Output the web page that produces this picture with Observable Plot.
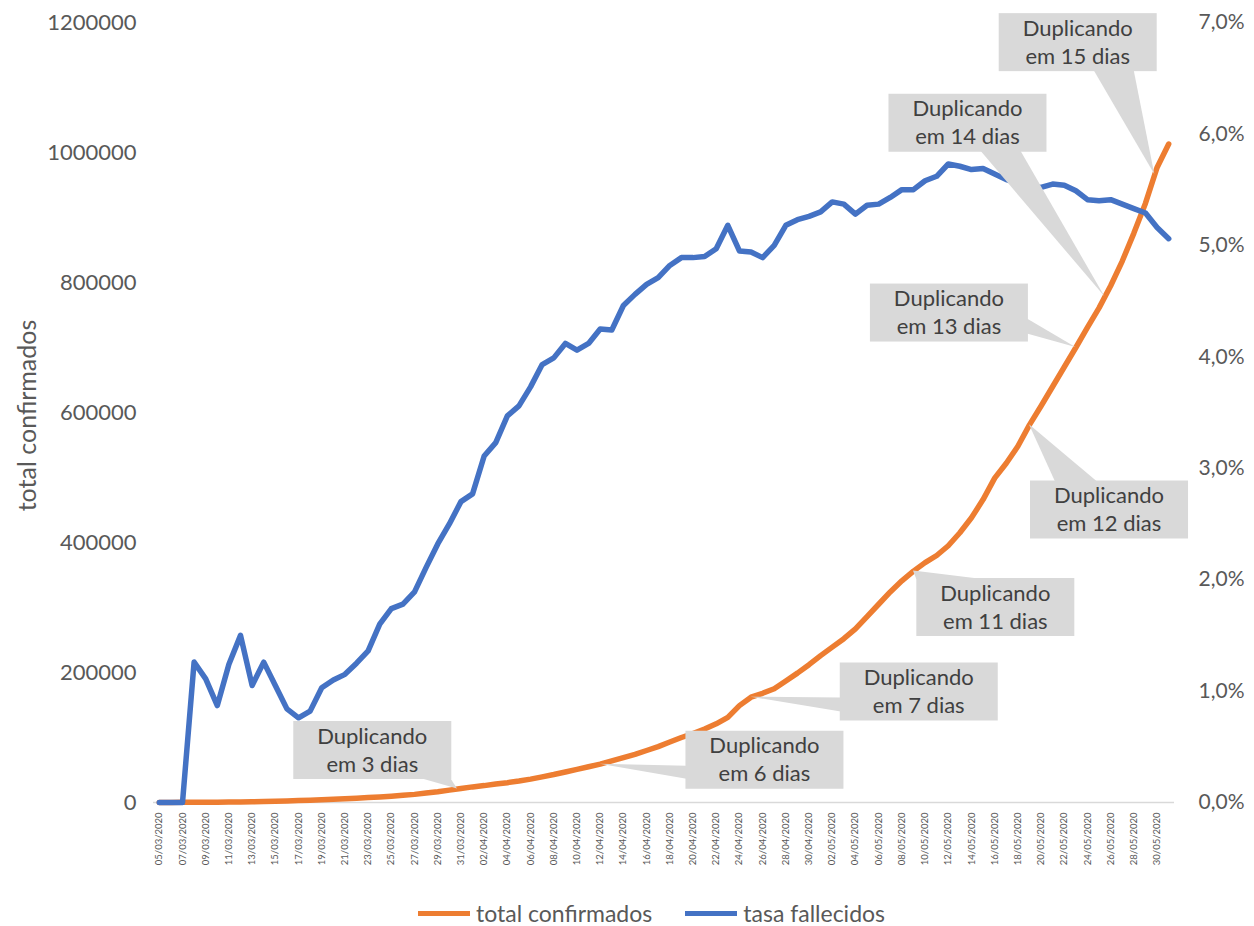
<!DOCTYPE html>
<html><head><meta charset="utf-8">
<script src="https://cdn.jsdelivr.net/npm/d3@7"></script>
<script src="https://cdn.jsdelivr.net/npm/@observablehq/plot@0.6"></script>
<style>
body{margin:0;background:#fff;font-family:Lato, sans-serif;overflow:hidden;}
#chart svg{display:block;}
#legend{display:flex;align-items:center;height:26px;line-height:26px;padding-left:418px;font-size:23px;color:#595959;}
.sw{display:inline-block;width:52px;height:5px;margin-right:6px;}
.item{display:flex;align-items:center;margin-right:33px;}
</style></head><body>
<div id="chart"></div>
<div id="legend"></div>
<script>
const dates = ["05/03/2020","06/03/2020","07/03/2020","08/03/2020","09/03/2020","10/03/2020","11/03/2020","12/03/2020","13/03/2020","14/03/2020","15/03/2020","16/03/2020","17/03/2020","18/03/2020","19/03/2020","20/03/2020","21/03/2020","22/03/2020","23/03/2020","24/03/2020","25/03/2020","26/03/2020","27/03/2020","28/03/2020","29/03/2020","30/03/2020","31/03/2020",
"01/04/2020","02/04/2020","03/04/2020","04/04/2020","05/04/2020","06/04/2020","07/04/2020","08/04/2020","09/04/2020","10/04/2020","11/04/2020","12/04/2020","13/04/2020","14/04/2020","15/04/2020","16/04/2020","17/04/2020","18/04/2020","19/04/2020","20/04/2020","21/04/2020","22/04/2020","23/04/2020","24/04/2020","25/04/2020","26/04/2020","27/04/2020","28/04/2020","29/04/2020","30/04/2020",
"01/05/2020","02/05/2020","03/05/2020","04/05/2020","05/05/2020","06/05/2020","07/05/2020","08/05/2020","09/05/2020","10/05/2020","11/05/2020","12/05/2020","13/05/2020","14/05/2020","15/05/2020","16/05/2020","17/05/2020","18/05/2020","19/05/2020","20/05/2020","21/05/2020","22/05/2020","23/05/2020","24/05/2020","25/05/2020","26/05/2020","27/05/2020","28/05/2020","29/05/2020","30/05/2020","31/05/2020"];

const totalConfirmados = [0,0,200,300,400,500,700,900,1200,1500,1900,2400,3000,3600,4200,5000,5800,6700,7600,8600,9700,11000,12500,14500,16500,19000,21500,
24000,26000,28500,30500,33000,36000,39500,43000,47000,51000,55000,59000,64000,69000,74000,80000,86000,93000,100000,106000,113000,121000,131000,149000,162000,168000,175000,187000,199000,212000,
226000,239000,252000,267000,286000,305000,324000,341000,356000,369000,380000,395000,415000,438000,466000,499000,522000,548000,581000,610000,640000,670000,700000,731000,761000,795000,833000,876000,922000,977000,1013000];

const tasaFallecidos = [0,0,0,1.26,1.11,0.87,1.24,1.50,1.05,1.26,1.05,0.84,0.76,0.82,1.03,1.10,1.15,1.25,1.36,1.60,1.74,1.78,1.89,2.11,2.32,2.50,2.70,
2.77,3.11,3.23,3.47,3.56,3.73,3.93,3.99,4.12,4.06,4.12,4.25,4.24,4.46,4.56,4.65,4.71,4.82,4.89,4.89,4.90,4.97,5.18,4.95,4.94,4.89,5.00,5.18,5.23,5.26,
5.30,5.39,5.37,5.28,5.36,5.37,5.43,5.50,5.50,5.58,5.62,5.73,5.71,5.68,5.69,5.64,5.59,5.56,5.53,5.52,5.55,5.54,5.49,5.41,5.40,5.41,5.37,5.33,5.29,5.16,5.06];

const leftTicks = [0,200000,400000,600000,800000,1000000,1200000];
const rightTickPct = [0,1,2,3,4,5,6,7];
const rightTickLabels = ["0,0%","1,0%","2,0%","3,0%","4,0%","5,0%","6,0%","7,0%"];
const seriesNames = ["total confirmados","tasa fallecidos"];
const yTitle = "total confirmados";

// callouts: label lines, tip (day index on orange line), box centre (day index, value)
const calloutLine1 = ["Duplicando","Duplicando","Duplicando","Duplicando","Duplicando","Duplicando","Duplicando","Duplicando"];
const calloutLine2 = ["em 3 dias","em 6 dias","em 7 dias","em 11 dias","em 12 dias","em 13 dias","em 14 dias","em 15 dias"];
const calloutTipDay = [25.7,38,51,65,75,79,81.5,85.8];
const calloutBoxDay = [18.4,52.2,65.5,72.1,81.9,68.1,69.7,79.2];
const calloutBoxValue = [80000,65000,170000,300000,450000,753000,1045000,1169000];
const calloutSide = ["bottom","left","left","top","top","right","bottom","bottom"];
const calloutBase = [[127,157],[35,48],[35,49],[0,66],[25,67],[35,50],[92,132],[95,135]];

const PCT_MAX = 7, Y_MAX = 1200000;
const orangeData = totalConfirmados.map((v,i)=>({i, v}));
const blueData = tasaFallecidos.map((v,i)=>({i, v}));
const ORANGE = "#ED7D31", BLUE = "#4472C4", TXT = "#595959";

function interp(arr, t){
  const a = Math.floor(t), b = Math.min(arr.length-1, a+1), f = t - a;
  return arr[a]*(1-f) + arr[b]*f;
}

function callouts(index, scales){
  const W = 158, H = 58;
  const g = d3.create("svg:g");
  for (let k = 0; k < calloutLine1.length; k++){
    const cx = scales.x(calloutBoxDay[k]), cy = scales.y(calloutBoxValue[k]);
    const L = cx - W/2, T = cy - H/2;
    const tx = scales.x(calloutTipDay[k]), ty = scales.y(interp(totalConfirmados, calloutTipDay[k]));
    const [o1,o2] = calloutBase[k];
    let p1, p2;
    switch (calloutSide[k]){
      case "bottom": p1=[L+o1,T+H-1]; p2=[L+o2,T+H-1]; break;
      case "top": p1=[L+o1,T+1]; p2=[L+o2,T+1]; break;
      case "left": p1=[L+1,T+o1]; p2=[L+1,T+o2]; break;
      case "right": p1=[L+W-1,T+o1]; p2=[L+W-1,T+o2]; break;
    }
    g.append("path").attr("d",`M${p1[0]},${p1[1]}L${tx},${ty}L${p2[0]},${p2[1]}Z`).attr("fill","#D9D9D9");
    g.append("rect").attr("x",L).attr("y",T).attr("width",W).attr("height",H).attr("fill","#D9D9D9");
    const t = g.append("text").attr("text-anchor","middle").attr("font-family","Lato, sans-serif").attr("font-size",22).attr("fill","#404040");
    t.append("tspan").attr("x",cx).attr("y",cy-14).attr("dy","0.35em").text(calloutLine1[k]);
    t.append("tspan").attr("x",cx).attr("y",cy+14).attr("dy","0.35em").text(calloutLine2[k]);
  }
  return g.node();
}

const chart = Plot.plot({
  width: 1254, height: 900,
  marginLeft: 153, marginRight: 80, marginTop: 22, marginBottom: 98,
  style: {fontFamily: "Lato, sans-serif", background: "#fff", color: TXT},
  x: {domain: [-0.5, 87.5]},
  y: {domain: [0, Y_MAX]},
  marks: [
    Plot.ruleY([0], {stroke: "#D9D9D9", strokeWidth: 1.5}),
    Plot.axisX({ticks: dates.map((d,i)=>i).filter(i=>i%2===0), tickFormat: i => dates[i], tickRotate: -90, tickSize: 0, tickPadding: 10, fontSize: 9.5, label: null, color: TXT}),
    Plot.axisY({ticks: leftTicks, tickFormat: d3.format("d"), tickSize: 0, tickPadding: 17, fontSize: 22, label: null, color: TXT}),
    Plot.axisY({anchor: "right", ticks: rightTickPct.map(p => p / PCT_MAX * Y_MAX), tickFormat: d => rightTickLabels[Math.round(d / Y_MAX * PCT_MAX)], tickSize: 0, tickPadding: 24, fontSize: 21, label: null, color: TXT}),
    Plot.text([yTitle], {text: d => d, frameAnchor: "left", textAnchor: "middle", lineAnchor: "middle", rotate: -90, dx: -126, dy: 3, fontSize: 25, fill: TXT}),
    Plot.line(orangeData, {x: "i", y: "v", stroke: ORANGE, strokeWidth: 5.5, strokeLinejoin: "round", strokeLinecap: "round"}),
    Plot.line(blueData, {x: "i", y: d => d.v / PCT_MAX * Y_MAX, stroke: BLUE, strokeWidth: 5.5, strokeLinejoin: "round", strokeLinecap: "round"}),
    callouts
  ]
});
document.getElementById("chart").appendChild(chart);

const legend = document.getElementById("legend");
[[seriesNames[0], ORANGE],[seriesNames[1], BLUE]].forEach(([name,c])=>{
  const it = document.createElement("div"); it.className="item";
  const sw = document.createElement("span"); sw.className="sw"; sw.style.background=c;
  const tx = document.createElement("span"); tx.textContent=name;
  it.appendChild(sw); it.appendChild(tx); legend.appendChild(it);
});
</script>
</body></html>
